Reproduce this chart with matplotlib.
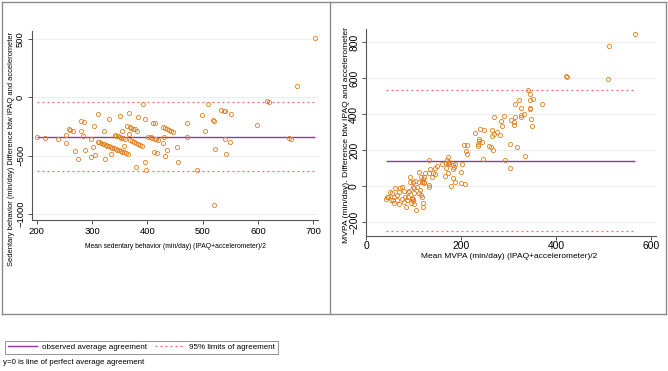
import matplotlib
matplotlib.use("Agg")
import matplotlib.pyplot as plt
from matplotlib.lines import Line2D

plt.rcParams['font.family'] = ['Liberation Sans', 'DejaVu Sans']

# sedentary behaviour: mean of methods vs difference (min/day)
sed_mean = [200, 215, 238, 253, 253, 258, 261, 265, 269, 274, 281, 285, 281, 284, 287,
            303, 299, 301, 299, 306, 311,
            310, 313, 316, 319, 322, 325, 328, 331, 334, 337, 340, 343, 346, 349, 352, 355, 358, 361, 365,
            322, 324, 331, 334, 341, 344, 347, 350, 353, 356, 360, 350, 354, 358,
            364, 368, 371, 375, 378, 382, 367, 367, 369, 372, 376, 379, 383, 386, 390,
            380, 384, 392, 395, 396, 398, 402, 406, 409, 413, 416, 420, 411, 413, 412, 417,
            428, 432, 435, 439, 442, 446, 430, 428, 432, 435, 454, 455, 471, 471,
            703, 671, 617, 619, 510, 498, 505, 519, 521, 534, 538, 540, 552, 540, 549,
            522, 542, 490, 520, 598, 656, 660]
sed_diff = [-337, -351, -354, -320, -388, -274, -283, -291, -457, -528, -200, -208, -291, -331, -454,
            -245, -360, -425, -514, -497, -143,
            -380, -386, -392, -398, -404, -409, -414, -420, -425, -431, -437, -443, -449, -454, -460, -465, -471, -477, -488,
            -285, -528, -183, -488, -322, -328, -334, -340, -346, -352, -360, -160, -285, -417,
            -245, -254, -262, -268, -274, -285, -131, -317, -362, -371, -380, -389, -398, -407, -417,
            -594, -165, -60, -185, -554, -620, -337, -343, -348, -354, -360, -365, -217, -220, -465, -474,
            -251, -260, -268, -277, -286, -294, -342, -388, -502, -451, -425, -551, -220, -342,
            510, 100, -32, -38, -57, -154, -288, -197, -203, -106, -118, -120, -143, -357, -380,
            -443, -485, -622, -922, -234, -349, -355]
sed_bias = -337
sed_loa = [-40, -628]

# MVPA: mean of methods vs difference (min/day)
mv_mean = [566, 511, 509, 421, 422, 341, 345, 346, 351, 346, 344, 326, 321, 314, 370, 347, 349,
           333, 326, 325, 313, 312, 311, 305, 270, 290, 286, 284, 281, 276, 269, 265, 264, 248,
           239, 230, 237, 237, 236, 235, 243, 258, 262, 268, 246, 207, 213, 211, 213, 209, 202,
           188, 200, 183, 185, 183, 183, 187, 179, 171, 172, 174, 175, 169, 172, 168, 173, 167,
           149, 146, 141, 138, 134, 133, 132, 133, 132, 125, 121, 120, 118, 121, 121, 111, 116,
           112, 107, 111, 116, 118, 120, 106, 104, 99, 102, 100, 97, 95, 92, 93, 98, 90, 88, 86,
           82, 79, 76, 72, 69, 65, 60, 57, 59, 55, 50, 53, 46, 43, 44, 58, 65, 69, 75, 84, 79,
           88, 96, 98, 99, 101, 120, 113, 145, 159, 200, 292, 303, 302, 318, 335]
mv_diff = [843, 776, 593, 613, 604, 531, 509, 478, 483, 435, 428, 431, 478, 454, 457, 370, 333,
           398, 381, 394, 385, 339, 357, 367, 385, 389, 333, 363, 281, 302, 291, 278, 311, 311,
           315, 296, 261, 250, 235, 224, 243, 224, 215, 200, 152, 228, 226, 196, 176, 9, 120,
           120, 78, 117, 104, 93, 43, 24, 2, 144, 126, 135, 120, 126, 159, 98, 70, 57,
           113, 98, 70, 52, 93, 70, 144, 6, -7, 70, 48, 37, 24, 24, 15, 76, 52,
           24, -4, -41, -50, -59, -118, -133, 30, -4, -9, -37, -69, -96, 52, 24, 24, -30, -59, -78,
           -59, -26, -7, -9, -31, -52, -13, -78, -59, -41, -31, -78, -63, -72, -59, -96, -78, -100, -74, -115, -87,
           -31, -74, -81, -74, -100, -93, -22, 67, 120, 19, 143, 98, 231, 219, 169]
mv_bias = 141
mv_loa = [531, -250]

orange = '#e0801c'
purple = '#8e3a9c'
red = '#e86a6a'

W, H = 668, 371
fig = plt.figure(figsize=(W / 100, H / 100), dpi=100)


def panel(rect, x, y, bias, loa, xlim, ylim, xticks, yticks, fs, xpad):
    ax = fig.add_axes(rect)
    for t in yticks:
        ax.axhline(t, color='#eeeeee', lw=0.8, zorder=0)
    ax.hlines(bias, min(x), max(x), color=purple, lw=1.0, zorder=2)
    ax.hlines(loa, min(x), max(x), color=red, lw=0.9, linestyles=(0, (1.5, 2.5)), zorder=2)
    ax.plot(x, y, 'o', ms=3.0, mfc='none', mec=orange, mew=0.6, zorder=3)
    ax.set_xlim(*xlim)
    ax.set_ylim(*ylim)
    ax.set_xticks(xticks)
    ax.set_yticks(yticks)
    for s in ['top', 'right']:
        ax.spines[s].set_visible(False)
    for s in ['left', 'bottom']:
        ax.spines[s].set_color('#555555')
        ax.spines[s].set_linewidth(0.8)
    ax.tick_params(labelsize=fs, length=3.0, width=0.7, color='#555555', pad=2)
    ax.tick_params(axis='x', pad=xpad)
    for lab in ax.get_yticklabels():
        lab.set_rotation(90)
        lab.set_va('center')
    return ax


ax1 = panel([32 / W, 1 - 220 / H, 286 / W, 189 / H], sed_mean, sed_diff, sed_bias, sed_loa,
            (191.6, 708.4), (-1050, 567), [200, 300, 400, 500, 600, 700], [-1000, -500, 0, 500], 6.8, 2)
ax2 = panel([366 / W, 1 - 236 / H, 290 / W, 207 / H], mv_mean, mv_diff, mv_bias, mv_loa,
            (0, 610), (-278, 872), [0, 200, 400, 600], [-200, 0, 200, 400, 600, 800], 7.4, 0.8)

# axis titles placed like the original
fig.text(175 / W, 1 - 247 / H, 'Mean sedentary behavior (min/day) (IPAQ+accelerometer)/2',
         fontsize=4.9, ha='center', va='center')
fig.text(12 / W, 1 - 149 / H, 'Sedentary behavior (min/day) Difference btw IPAQ and accelerometer',
         fontsize=5.4, ha='center', va='center', rotation=90)
fig.text(509 / W, 1 - 256.5 / H, 'Mean MVPA (min/day) (IPAQ+accelerometer)/2',
         fontsize=6.0, ha='center', va='center')
fig.text(346 / W, 1 - 135 / H, 'MVPA (min/day). Difference btw IPAQ and accelerometer',
         fontsize=6.1, ha='center', va='center', rotation=90)

# outer frame around the two panels
frame = [((2, 2), (666, 2)), ((2, 314), (666, 314)), ((2, 2), (2, 314)),
         ((666, 2), (666, 314)), ((330, 2), (330, 314))]
for (x0, y0), (x1, y1) in frame:
    fig.add_artist(Line2D([x0 / W, x1 / W], [1 - y0 / H, 1 - y1 / H], color='#8a8a8a', lw=1.0))

handles = [Line2D([], [], color=purple, lw=1.0),
           Line2D([], [], color=red, lw=0.9, ls=(0, (1.5, 2.5)))]
leg = fig.legend(handles, ['observed average agreement', '95% limits of agreement'],
                 ncol=2, loc='lower left', bbox_to_anchor=(5 / W, 1 - 354 / H),
                 fontsize=5.8, frameon=True, fancybox=False, edgecolor='#777777',
                 handlelength=3.6, handletextpad=0.7, columnspacing=0.9,
                 borderpad=0.35, borderaxespad=0)
leg.get_frame().set_linewidth(0.7)
fig.text(3 / W, 1 - 362 / H, 'y=0 is line of perfect average agreement', fontsize=5.7, va='center')

fig.savefig('out.png', dpi=100)
